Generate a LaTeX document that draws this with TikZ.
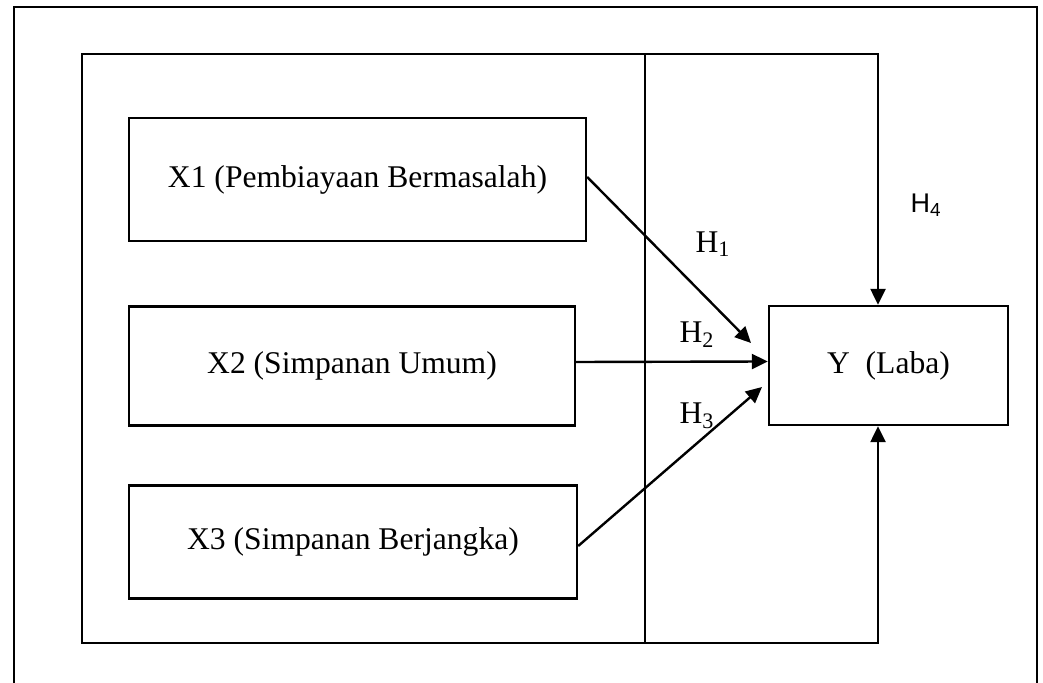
\documentclass[tikz,border=0pt]{standalone}
\usepackage{fontspec}
\setmainfont{Liberation Serif}
\newfontfamily\arialf{Liberation Sans}
\usetikzlibrary{arrows.meta}
\begin{document}
\begin{tikzpicture}[x=0.5pt,y=-0.5pt,
  line width=1.2pt,
  varbox/.style={draw, line width=1.2pt, inner sep=0pt, font=\fontsize{15.8}{19}\selectfont},
  hlab/.style={font=\fontsize{15.8}{19}\selectfont, inner sep=0pt},
  hsans/.style={font=\arialf\fontsize{13.5}{16}\selectfont, inner sep=0pt},
  arr/.style={-{Triangle[length=8pt,width=7.5pt]}, line width=1.2pt}]
\useasboundingbox (0,0) rectangle (1043,683);
% outer frame (bottom cut off)
\draw (14,690) -- (14,7) -- (1037,7) -- (1037,690);
% inner frame
\draw (82,54) rectangle (645,643);
% boxes
\node[varbox, minimum width=228.5pt, minimum height=61.5pt] (X1) at (357.5,179.5) {X1 (Pembiayaan Bermasalah)};
\node[varbox, minimum width=223pt, minimum height=59.5pt] (X2) at (352,366) {X2 (Simpanan Umum)};
\node[varbox, minimum width=224pt, minimum height=56.5pt] (X3) at (353,542) {X3 (Simpanan Berjangka)};
\node[varbox, minimum width=119.5pt, minimum height=59.5pt] (Y) at (888.5,365.5) {Y\ \ (Laba)};
% free ends
\coordinate (h1tip) at (751,343);
\coordinate (h3tip) at (762,387);
\coordinate (tl) at (645,54);
\coordinate (tr) at (878,54);
\coordinate (bl) at (645,643);
\coordinate (br) at (878,643);
% arrows
\draw[arr] ([yshift=1.25pt]X1.east) -- (h1tip);
\draw[arr] ([yshift=2pt]X2.east) -- ([yshift=2pt]Y.west);
\draw[arr] ([yshift=-2pt]X3.east) -- (h3tip);
\draw[arr] (tl) -- (tr) -- (tr |- Y.north);
\draw[arr] (bl) -- (br) -- (br |- Y.south);
% labels
\node[hlab] (H1) at (713,244) {H\textsubscript{1}};
\node[hlab] (H2) at (697,335) {H\textsubscript{2}};
\node[hlab] (H3) at (697,416) {H\textsubscript{3}};
\node[hsans] (H4) at (926,205) {H\textsubscript{4}};
\end{tikzpicture}
\end{document}
